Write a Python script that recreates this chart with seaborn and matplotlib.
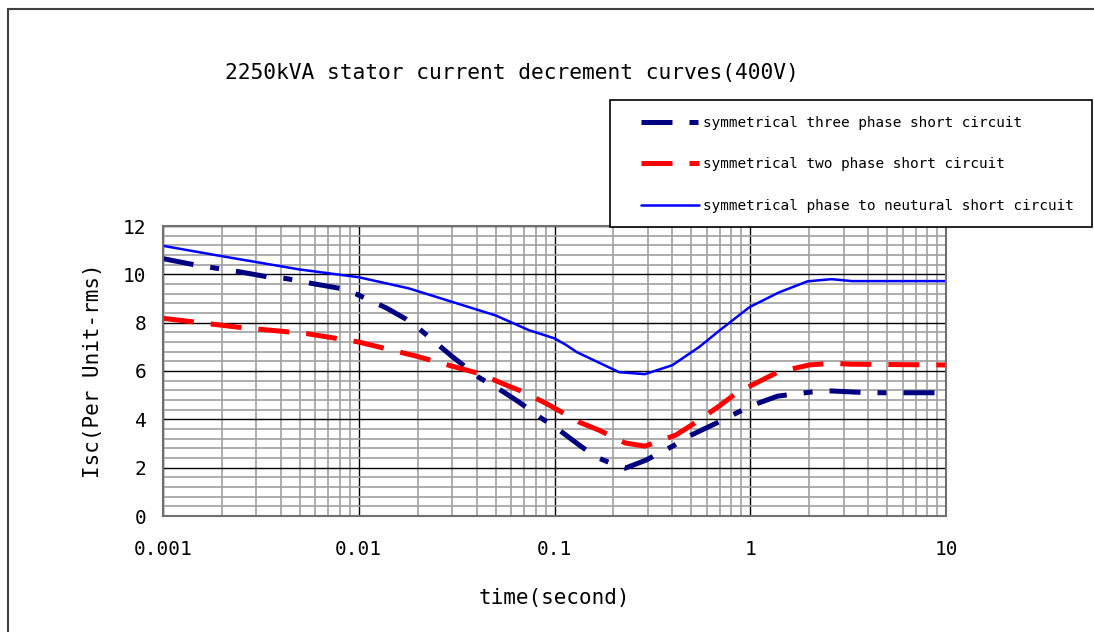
import numpy as np
import pandas as pd
import matplotlib
matplotlib.use("Agg")
import matplotlib.pyplot as plt
import seaborn as sns
from matplotlib.patches import Rectangle
from matplotlib.ticker import FixedLocator, NullFormatter

# values
t_three = [0.001, 0.0015, 0.0024, 0.0034, 0.0043, 0.0057, 0.008, 0.0098, 0.0139, 0.0175,
           0.02, 0.03, 0.041, 0.054, 0.066, 0.084, 0.1, 0.134, 0.163, 0.206, 0.23, 0.293,
           0.41, 0.5, 0.67, 0.91, 1.0, 1.38, 2.0, 2.5, 3.0, 4.0, 10.0]
i_three = [10.65, 10.37, 10.12, 9.9, 9.82, 9.63, 9.42, 9.17, 8.6, 8.14,
           7.8, 6.6, 5.74, 5.17, 4.71, 4.09, 3.7, 2.93, 2.44, 2.1, 1.98, 2.31,
           2.93, 3.35, 3.84, 4.38, 4.55, 4.96, 5.12, 5.18, 5.15, 5.1, 5.1]

t_two = [0.001, 0.0025, 0.0054, 0.01, 0.02, 0.03, 0.041, 0.057, 0.07, 0.094, 0.134,
         0.169, 0.23, 0.29, 0.417, 0.51, 0.68, 0.85, 1.07, 1.38, 2.0, 2.6, 3.3, 10.0]
i_two = [8.18, 7.8, 7.55, 7.2, 6.6, 6.2, 5.9, 5.41, 5.12, 4.59, 3.88,
         3.55, 3.02, 2.89, 3.35, 3.8, 4.5, 5.08, 5.5, 5.95, 6.25, 6.32, 6.28, 6.25]

t_neutral = [0.001, 0.002, 0.005, 0.01, 0.018, 0.05, 0.074, 0.1, 0.115, 0.13, 0.214,
             0.29, 0.4, 0.55, 0.7, 0.99, 1.4, 1.96, 2.6, 3.3, 10.0]
i_neutral = [11.18, 10.75, 10.2, 9.88, 9.42, 8.3, 7.69, 7.35, 7.07, 6.78, 5.95,
             5.87, 6.24, 7.0, 7.69, 8.64, 9.25, 9.71, 9.8, 9.72, 9.72]

labels = ["symmetrical three phase short circuit",
          "symmetrical two phase short circuit",
          "symmetrical phase to neutural short circuit"]
x_ticks = [0.001, 0.01, 0.1, 1, 10]
x_ticklabels = ["0.001", "0.01", "0.1", "1", "10"]
y_ticks = [0, 2, 4, 6, 8, 10, 12]

sns.set_style("white")
plt.rcParams['font.family'] = ['DejaVu Sans Mono', 'DejaVu Sans']
plt.rcParams['text.color'] = 'black'
plt.rcParams['axes.labelcolor'] = 'black'
plt.rcParams['xtick.color'] = 'black'
plt.rcParams['ytick.color'] = 'black'

W, H = 1094, 632
fig = plt.figure(figsize=(W / 100, H / 100), dpi=100)
ax = fig.add_axes([163 / W, 1 - 516 / H, (946 - 163) / W, (516 - 226) / H])

# grid
minor_x = [m * 10.0 ** e for e in range(-3, 1) for m in range(2, 10)]
ax.xaxis.set_minor_locator(FixedLocator(minor_x))
ax.xaxis.set_minor_formatter(NullFormatter())
ax.yaxis.set_minor_locator(FixedLocator(np.arange(0, 12.01, 0.4)))
ax.grid(which="minor", color="#a0a0a0", linewidth=1.2)
ax.grid(which="major", color="black", linewidth=1.0)
ax.set_axisbelow(True)

sns.lineplot(x=t_three, y=i_three, ax=ax, color="#000080", linewidth=3.6,
             linestyle=(0, (6.2, 3.4, 1.8, 3.4)), label=labels[0])
sns.lineplot(x=t_two, y=i_two, ax=ax, color="#ff0000", linewidth=3.6,
             linestyle=(0, (6.2, 3.4)), label=labels[1])
sns.lineplot(x=t_neutral, y=i_neutral, ax=ax, color="#0000ff", linewidth=1.8,
             label=labels[2])

ax.set_xscale("log")
ax.set_xlim(0.001, 10)
ax.set_ylim(0, 12)
ax.set_xticks(x_ticks)
ax.set_xticklabels(x_ticklabels)
ax.set_yticks(y_ticks)
ax.tick_params(axis="both", which="both", length=0, labelsize=14)
ax.tick_params(axis="x", pad=17)
ax.tick_params(axis="y", pad=12)
for s in ax.spines.values():
    s.set_color("#707070")
    s.set_linewidth(1.5)

ax.set_xlabel("time(second)", fontsize=15, labelpad=21)
ax.set_ylabel("Isc(Per Unit-rms)", fontsize=15, labelpad=14)

handles, lbls = ax.get_legend_handles_labels()
ax.get_legend().remove()

fig.text(512 / W, 1 - 73 / H, "2250kVA stator current decrement curves(400V)",
         fontsize=15.3, ha="center", va="center")

# legend box
fig.add_artist(Rectangle((610 / W, 1 - 227 / H), (1092 - 610) / W, 127 / H,
                         transform=fig.transFigure, facecolor="white",
                         edgecolor="black", linewidth=1.2, zorder=3))
fig.legend(handles, lbls, loc="upper left", bbox_to_anchor=(641 / W, 1 - 116 / H),
           frameon=False, fontsize=10.4, handlelength=4.0, handletextpad=0.3,
           labelspacing=1.9, borderpad=0, borderaxespad=0)

# outer border
fig.add_artist(Rectangle((8 / W, -0.1), 1.2, 1.1 - 9 / H, transform=fig.transFigure,
                         facecolor="none", edgecolor="#404040", linewidth=1.5,
                         clip_on=False))

fig.savefig("out.png", dpi=100)
